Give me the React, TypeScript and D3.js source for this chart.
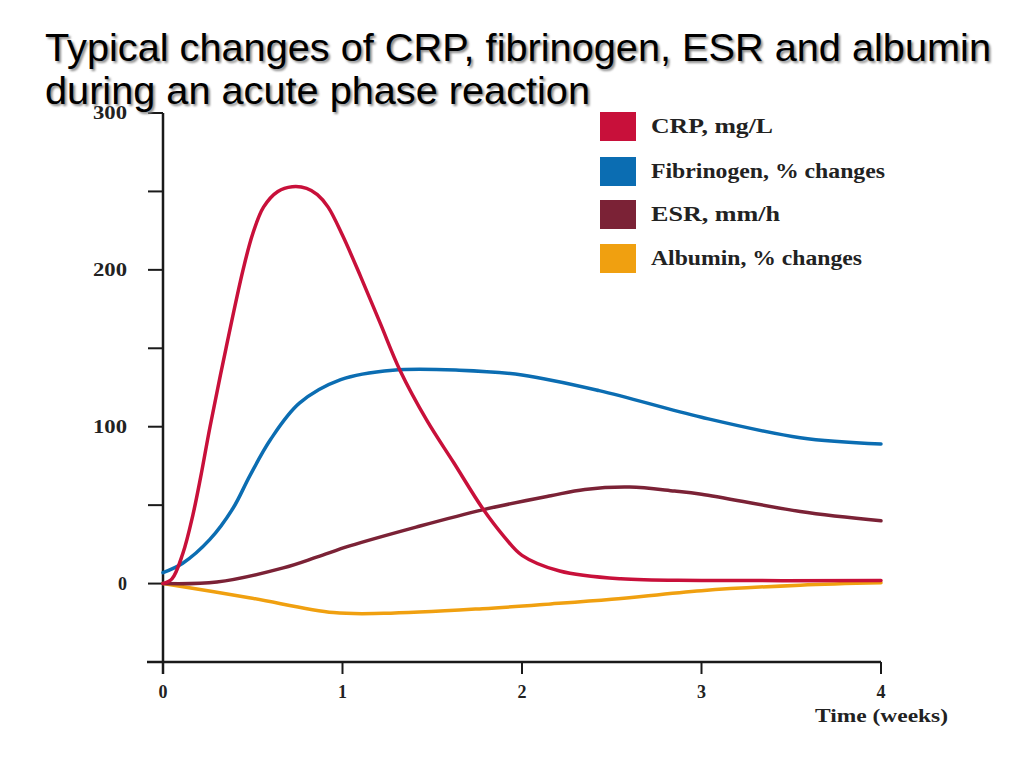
import React from "react";
import * as d3 from "d3";

const weeksTicks = [0, 1, 2, 3, 4];
const yMajorTicks = [0, 100, 200, 300];
const yMinorTicks = [-50, 50, 150, 250];

const crpT = [0, 0.05, 0.11, 0.167, 0.21, 0.262, 0.351, 0.446, 0.5, 0.56, 0.64, 0.72, 0.8, 0.86, 0.92, 1.0, 1.1, 1.21, 1.32, 1.47, 1.62, 1.78, 1.9, 2.0, 2.21, 2.55, 3.0, 4.0];
const crpV = [0, 3, 19, 44, 68, 100, 150, 200, 223, 240, 250, 253, 252, 248, 240, 222, 196, 166, 136, 104, 77, 48, 30, 18, 8, 3, 2, 2];

const fibT = [0, 0.11, 0.26, 0.39, 0.485, 0.6, 0.76, 0.99, 1.28, 1.65, 2.0, 2.43, 3.0, 3.55, 4.0];
const fibV = [7, 13, 28, 48, 69, 92, 115, 130, 136, 136, 133, 123, 106, 93, 89];

const esrT = [0, 0.3, 0.67, 0.86, 1.04, 1.41, 1.78, 2.16, 2.35, 2.6, 2.85, 3.0, 3.55, 4.0];
const esrV = [0, 1, 10, 17, 24, 36, 47, 56, 60, 61.5, 59, 57, 46, 40];

const albT = [0, 0.48, 0.95, 1.23, 1.78, 2.16, 2.5, 3.0, 3.55, 4.0];
const albV = [0, -9, -18.5, -19, -16, -13, -10, -4.5, -1, 0.5];

const seriesNames = ["CRP, mg/L", "Fibrinogen, % changes", "ESR, mm/h", "Albumin, % changes"];
const seriesColors = ["#c8103a", "#0b6db2", "#7b2236", "#f0a010"];
const legendWidths = [122, 234, 129, 211];

export default function App() {
  const x = d3.scaleLinear().domain([0, 4]).range([163, 881]);
  const y = d3.scaleLinear().domain([-50, 300]).range([662, 113]);
  const line = d3
    .line<[number, number]>()
    .x((d) => x(d[0]))
    .y((d) => y(d[1]))
    .curve(d3.curveCatmullRom.alpha(0.5));

  const series = [
    crpT.map((t, i) => [t, crpV[i]] as [number, number]),
    fibT.map((t, i) => [t, fibV[i]] as [number, number]),
    esrT.map((t, i) => [t, esrV[i]] as [number, number]),
    albT.map((t, i) => [t, albV[i]] as [number, number]),
  ];
  const drawOrder = [3, 2, 1, 0];
  const serif = "'Liberation Serif', 'Times New Roman', serif";
  const axisColor = "#1a1a1a";
  const legendY = [112, 157, 200, 244];

  return (
    <svg
      width={1024}
      height={768}
      style={{ position: "absolute", left: 0, top: 0, background: "#fff" }}
    >
      <defs>
        <filter id="shadowBlur" x="-5%" y="-20%" width="110%" height="140%">
          <feGaussianBlur stdDeviation="1" />
        </filter>
      </defs>
      <rect x={0} y={0} width={1024} height={768} fill="#fff" />
      {/* axes */}
      <line x1={163} x2={163} y1={y(300)} y2={y(-50) + 12} stroke={axisColor} strokeWidth={2.5} />
      <line x1={147} x2={x(4)} y1={y(-50)} y2={y(-50)} stroke={axisColor} strokeWidth={2.5} />
      {yMajorTicks.concat(yMinorTicks).map((v) => (
        <line key={"yt" + v} x1={148} x2={163} y1={y(v)} y2={y(v)} stroke={axisColor} strokeWidth={2} />
      ))}
      {yMajorTicks.map((v) => (
        <text
          key={"yl" + v}
          x={127}
          y={y(v) + 6}
          textAnchor="end"
          fontFamily={serif}
          fontWeight="bold"
          fontSize={18}
          fill="#222"
          textLength={v === 0 ? undefined : 34}
          lengthAdjust="spacingAndGlyphs"
        >
          {v}
        </text>
      ))}
      {weeksTicks.map((t) => (
        <g key={"xt" + t}>
          <line x1={x(t)} x2={x(t)} y1={y(-50)} y2={y(-50) + 12} stroke={axisColor} strokeWidth={2} />
          <text
            x={x(t)}
            y={698}
            textAnchor="middle"
            fontFamily={serif}
            fontWeight="bold"
            fontSize={18}
            fill="#222"
          >
            {t}
          </text>
        </g>
      ))}
      <text
        x={815}
        y={722}
        fontFamily={serif}
        fontWeight="bold"
        fontSize={18}
        fill="#222"
        textLength={133}
        lengthAdjust="spacingAndGlyphs"
      >
        Time (weeks)
      </text>
      {/* curves */}
      {drawOrder.map((i) => (
        <path
          key={"s" + i}
          d={line(series[i]) || ""}
          fill="none"
          stroke={seriesColors[i]}
          strokeWidth={3.5}
          strokeLinecap="round"
        />
      ))}
      {/* legend */}
      {seriesNames.map((n, i) => (
        <g key={"lg" + i}>
          <rect x={600} y={legendY[i]} width={36} height={29} fill={seriesColors[i]} />
          <text
            x={651}
            y={legendY[i] + 21}
            fontFamily={serif}
            fontWeight="bold"
            fontSize={20}
            fill="#222"
            textLength={legendWidths[i]}
            lengthAdjust="spacingAndGlyphs"
          >
            {n}
          </text>
        </g>
      ))}
      {/* title */}
      {[
        { t: "Typical changes of CRP, fibrinogen, ESR and albumin", y: 61, w: 946 },
        { t: "during an acute phase reaction", y: 104, w: 545 },
      ].map((l, i) => (
        <g key={"tt" + i} fontFamily="'Liberation Sans', Arial, sans-serif" fontSize={39}>
          <text
            x={47}
            y={l.y + 2}
            fill="#8a8a8a"
            textLength={l.w}
            lengthAdjust="spacingAndGlyphs"
            filter="url(#shadowBlur)"
          >
            {l.t}
          </text>
          <text x={45} y={l.y} fill="#000" textLength={l.w} lengthAdjust="spacingAndGlyphs">
            {l.t}
          </text>
        </g>
      ))}
    </svg>
  );
}
